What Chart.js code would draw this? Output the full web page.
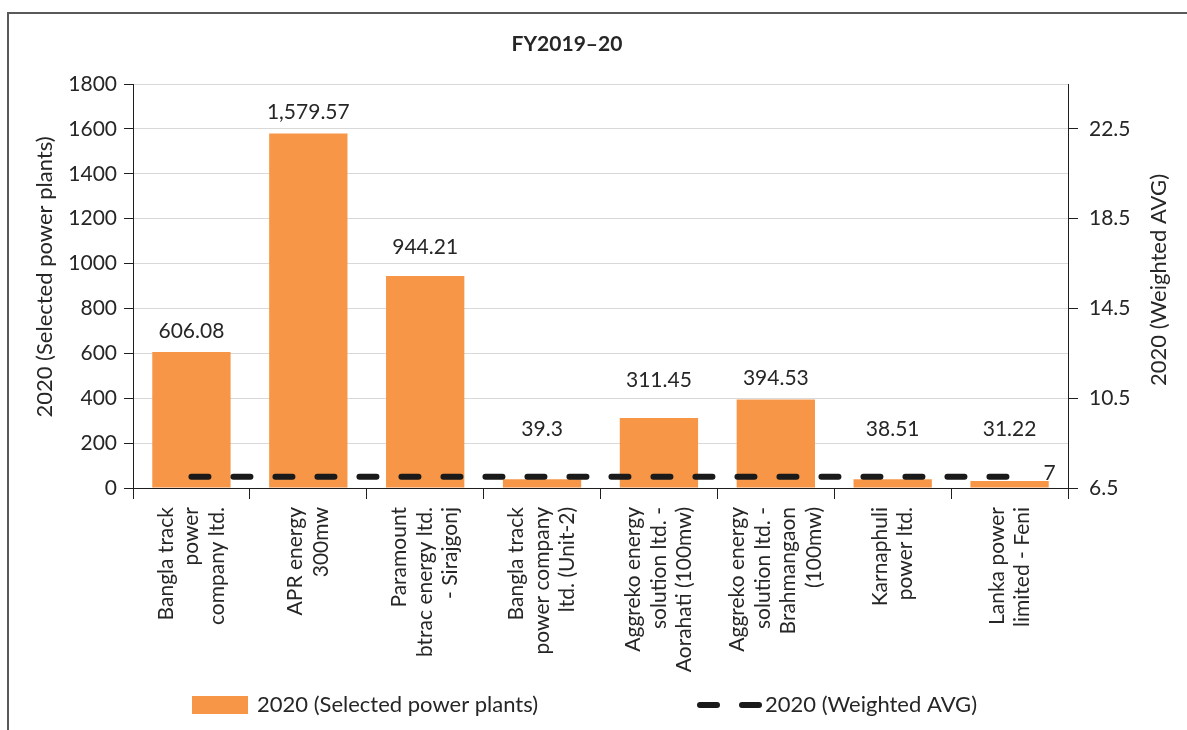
<!DOCTYPE html>
<html>
<head>
<meta charset="utf-8">
<title>FY2019–20</title>
<script src="https://cdn.jsdelivr.net/npm/chart.js@4.4.0/dist/chart.umd.min.js"></script>
<style>
  html, body { margin: 0; padding: 0; background: #ffffff; }
  #wrap { width: 1187px; height: 730px; }
</style>
</head>
<body>
<div id="wrap"><canvas id="chart" width="1187" height="730"></canvas></div>
<script>
// data
const plants = [
    ['Bangla track', 'power', 'company ltd.'],
    ['APR energy', '300mw'],
    ['Paramount', 'btrac energy ltd.', '- Sirajgonj'],
    ['Bangla track', 'power company', 'ltd. (Unit-2)'],
    ['Aggreko energy', 'solution ltd. -', 'Aorahati (100mw)'],
    ['Aggreko energy', 'solution ltd. -', 'Brahmangaon', '(100mw)'],
    ['Karnaphuli', 'power ltd.'],
    ['Lanka power', 'limited - Feni']
];
const selectedPlants = [606.08, 1579.57, 944.21, 39.3, 311.45, 394.53, 38.51, 31.22];
const weightedAvg = [7, 7, 7, 7, 7, 7, 7, 7];
const leftTicks = [0, 200, 400, 600, 800, 1000, 1200, 1400, 1600, 1800];
const rightTicks = [6.5, 10.5, 14.5, 18.5, 22.5];

const chartTitle = 'FY2019–20';
const leftTitle = '2020 (Selected power plants)';
const rightTitle = '2020 (Weighted AVG)';

// styling
const FONT = 'Lato';
const TEXT = '#262626';
const AXIS = '#1f1f1f';
const GRID = '#d9d9d9';
const BAR = '#F79646';
const LINE = '#1a1a1a';
// extra lift (px) of a few value labels, as placed in the original
const labelRaise = [0, 0, 8, 0, 17, 0, 0, 0];

const fmt = v => v.toLocaleString('en-US', { maximumFractionDigits: 2 });

const framePlugin = {
    id: 'frame',
    beforeDraw(chart) {
        const ctx = chart.ctx;
        ctx.save();
        ctx.strokeStyle = '#595959';
        ctx.lineWidth = 2;
        ctx.beginPath();
        ctx.moveTo(8, chart.height);
        ctx.lineTo(8, 13);
        ctx.lineTo(chart.width, 13);
        ctx.stroke();
        ctx.restore();
    }
};

// chart title and both axis titles (both read bottom-to-top)
const titlesPlugin = {
    id: 'titles',
    afterDraw(chart) {
        const { ctx } = chart;
        ctx.save();
        ctx.fillStyle = TEXT;
        ctx.textAlign = 'center';
        ctx.textBaseline = 'middle';
        ctx.font = `bold 21px ${FONT}`;
        ctx.fillText(chartTitle, 567, 44);

        ctx.font = `22px ${FONT}`;
        const mid = (chart.chartArea.top + chart.chartArea.bottom) / 2;
        [[leftTitle, 45, mid - 9], [rightTitle, 1159, mid - 6]].forEach(([t, x, y]) => {
            ctx.save();
            ctx.translate(x, y);
            ctx.rotate(-Math.PI / 2);
            ctx.fillText(t, 0, 0);
            ctx.restore();
        });
        ctx.restore();
    }
};

// rotated multi-line category labels, centred on each category
const categoryLabels = {
    id: 'categoryLabels',
    afterDraw(chart) {
        const { ctx } = chart;
        const x = chart.scales.x;
        const lh = 25.5;
        ctx.save();
        ctx.font = `21px ${FONT}`;
        ctx.fillStyle = TEXT;
        ctx.textAlign = 'right';
        ctx.textBaseline = 'middle';
        plants.forEach((lines, i) => {
            ctx.save();
            ctx.translate(x.getPixelForValue(i), x.top + 19);
            ctx.rotate(-Math.PI / 2);
            lines.forEach((line, j) => {
                ctx.fillText(line, 0, (j - (lines.length - 1) / 2) * lh);
            });
            ctx.restore();
        });
        ctx.restore();
    }
};

const valueLabels = {
    id: 'valueLabels',
    afterDatasetsDraw(chart) {
        const { ctx } = chart;
        const barMeta = chart.getDatasetMeta(1);
        const lineMeta = chart.getDatasetMeta(0);
        const lineY = chart.scales.y1.getPixelForValue(weightedAvg[0]);
        ctx.save();
        ctx.font = `21px ${FONT}`;
        ctx.fillStyle = TEXT;
        ctx.textAlign = 'center';
        ctx.textBaseline = 'middle';
        barMeta.data.forEach((bar, i) => {
            const y = Math.min(bar.y - 21, lineY - 48) - labelRaise[i];
            ctx.fillText(fmt(selectedPlants[i]), bar.x, y);
        });
        const last = lineMeta.data[lineMeta.data.length - 1];
        ctx.fillText(fmt(weightedAvg[weightedAvg.length - 1]), last.x + 40, last.y - 4);
        ctx.restore();
    }
};

const legendPlugin = {
    id: 'customLegend',
    afterDraw(chart) {
        const { ctx } = chart;
        const cy = 705;
        ctx.save();
        ctx.font = `22px ${FONT}`;
        ctx.textBaseline = 'middle';
        ctx.textAlign = 'left';

        ctx.fillStyle = BAR;
        ctx.fillRect(192, cy - 9, 56, 18);
        ctx.fillStyle = TEXT;
        ctx.fillText(chart.data.datasets[1].label, 257, cy);

        ctx.strokeStyle = LINE;
        ctx.lineWidth = 6;
        ctx.lineCap = 'round';
        ctx.beginPath();
        ctx.moveTo(700, cy); ctx.lineTo(717, cy);
        ctx.moveTo(742, cy); ctx.lineTo(759, cy);
        ctx.stroke();
        ctx.fillText(chart.data.datasets[0].label, 765, cy);
        ctx.restore();
    }
};

function draw() {
    const ctx = document.getElementById('chart').getContext('2d');
    new Chart(ctx, {
        type: 'bar',
        data: {
            labels: plants.map(l => l.join(' ')),
            datasets: [
                {
                    type: 'line',
                    label: rightTitle,
                    data: weightedAvg,
                    yAxisID: 'y1',
                    borderColor: LINE,
                    borderWidth: 6,
                    borderDash: [17, 25],
                    borderCapStyle: 'round',
                    pointRadius: 0,
                    fill: false,
                    order: 0
                },
                {
                    label: leftTitle,
                    data: selectedPlants,
                    yAxisID: 'y',
                    backgroundColor: BAR,
                    borderWidth: 0,
                    barPercentage: 0.67,
                    categoryPercentage: 1,
                    order: 1
                }
            ]
        },
        options: {
            responsive: false,
            animation: false,
            devicePixelRatio: 1,
            layout: { padding: { top: 84, left: 0, right: 0, bottom: 0 } },
            events: [],
            scales: {
                x: {
                    afterFit(scale) { scale.height = 242; },
                    grid: {
                        drawOnChartArea: false,
                        drawTicks: true,
                        tickLength: 11,
                        tickColor: AXIS
                    },
                    border: { color: AXIS, width: 1 },
                    ticks: { display: false }
                },
                y: {
                    position: 'left',
                    min: 0,
                    max: 1800,
                    afterBuildTicks(scale) { scale.ticks = leftTicks.map(v => ({ value: v })); },
                    afterFit(scale) { scale.width = 133; },
                    grid: { color: GRID, lineWidth: 1, tickColor: AXIS, tickLength: 9 },
                    border: { color: AXIS, width: 1 },
                    ticks: {
                        padding: 7,
                        color: TEXT,
                        font: { family: FONT, size: 21 },
                        callback: v => String(v)
                    }
                },
                y1: {
                    position: 'right',
                    min: 6.5,
                    max: 24.5,
                    afterBuildTicks(scale) { scale.ticks = rightTicks.map(v => ({ value: v })); },
                    afterFit(scale) { scale.width = 119; },
                    grid: { drawOnChartArea: false, tickColor: AXIS, tickLength: 10 },
                    border: { color: AXIS, width: 1 },
                    ticks: {
                        padding: 11,
                        color: TEXT,
                        font: { family: FONT, size: 21 },
                        callback: v => String(v)
                    }
                }
            },
            plugins: {
                legend: { display: false },
                tooltip: { enabled: false },
                title: { display: false }
            }
        },
        plugins: [framePlugin, titlesPlugin, categoryLabels, valueLabels, legendPlugin]
    });
}

if (document.fonts && document.fonts.load) {
    Promise.all([
        document.fonts.load(`21px ${FONT}`),
        document.fonts.load(`bold 21px ${FONT}`)
    ]).then(draw, draw);
} else {
    draw();
}
</script>
</body>
</html>
